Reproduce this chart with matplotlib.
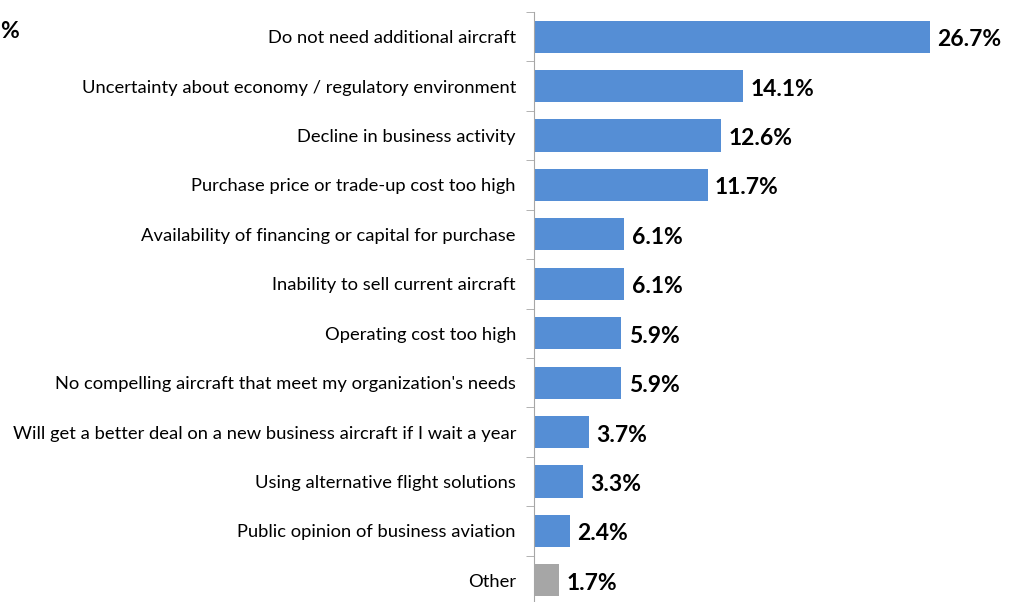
import matplotlib.pyplot as plt
import numpy as np

##############################################################################

categories = ['Do not need additional aircraft',
              'Uncertainty about economy / regulatory environment',
              'Decline in business activity',
              'Purchase price or trade-up cost too high',
              'Availability of financing or capital for purchase',
              'Inability to sell current aircraft',
              'Operating cost too high',
              "No compelling aircraft that meet my organization's needs",
              'Will get a better deal on a new business aircraft if I wait a year',
              'Using alternative flight solutions',
              'Public opinion of business aviation',
              'Other']
values = [26.7, 14.1, 12.6, 11.7, 6.1, 6.1, 5.9, 5.9, 3.7, 3.3, 2.4, 1.7]

##############################################################################

plt.rcParams['font.family'] = ['Lato', 'DejaVu Sans']

fig = plt.figure(figsize=(10.19, 6.02), dpi=100)
ax = fig.add_axes([534 / 1019, 1 - 605 / 602, 485 / 1019, 593 / 602])

n = len(categories)
y = np.arange(n)
colors = ['#558ED5'] * (n - 1) + ['#A6A6A6']
ax.barh(y, values, height=0.65, color=colors, edgecolor='none')

for yi, v in zip(y, values):
    ax.text(v + 0.5, yi + 0.06, '{:.1f}%'.format(v), va='center', ha='left',
            fontsize=16.5, fontweight='bold', color='black')

ax.set_xlim(0, 485 / 14.83)
ax.set_ylim(n - 0.5, -0.5)
ax.set_yticks(y)
ax.set_yticklabels(categories, fontsize=13.2)
ax.tick_params(axis='y', length=0, pad=13)
ax.set_yticks(np.arange(n + 1) - 0.5, minor=True)
ax.tick_params(axis='y', which='minor', length=6, color='#A6A6A6')
ax.set_xticks([])
for side in ['top', 'right', 'bottom']:
    ax.spines[side].set_visible(False)
ax.spines['left'].set_color('#A6A6A6')

fig.text(0.5 / 1019, 1 - 32 / 602, '%', ha='left', va='center',
         fontsize=16.5, fontweight='bold')

plt.savefig('out.png', dpi=100)
plt.close()
